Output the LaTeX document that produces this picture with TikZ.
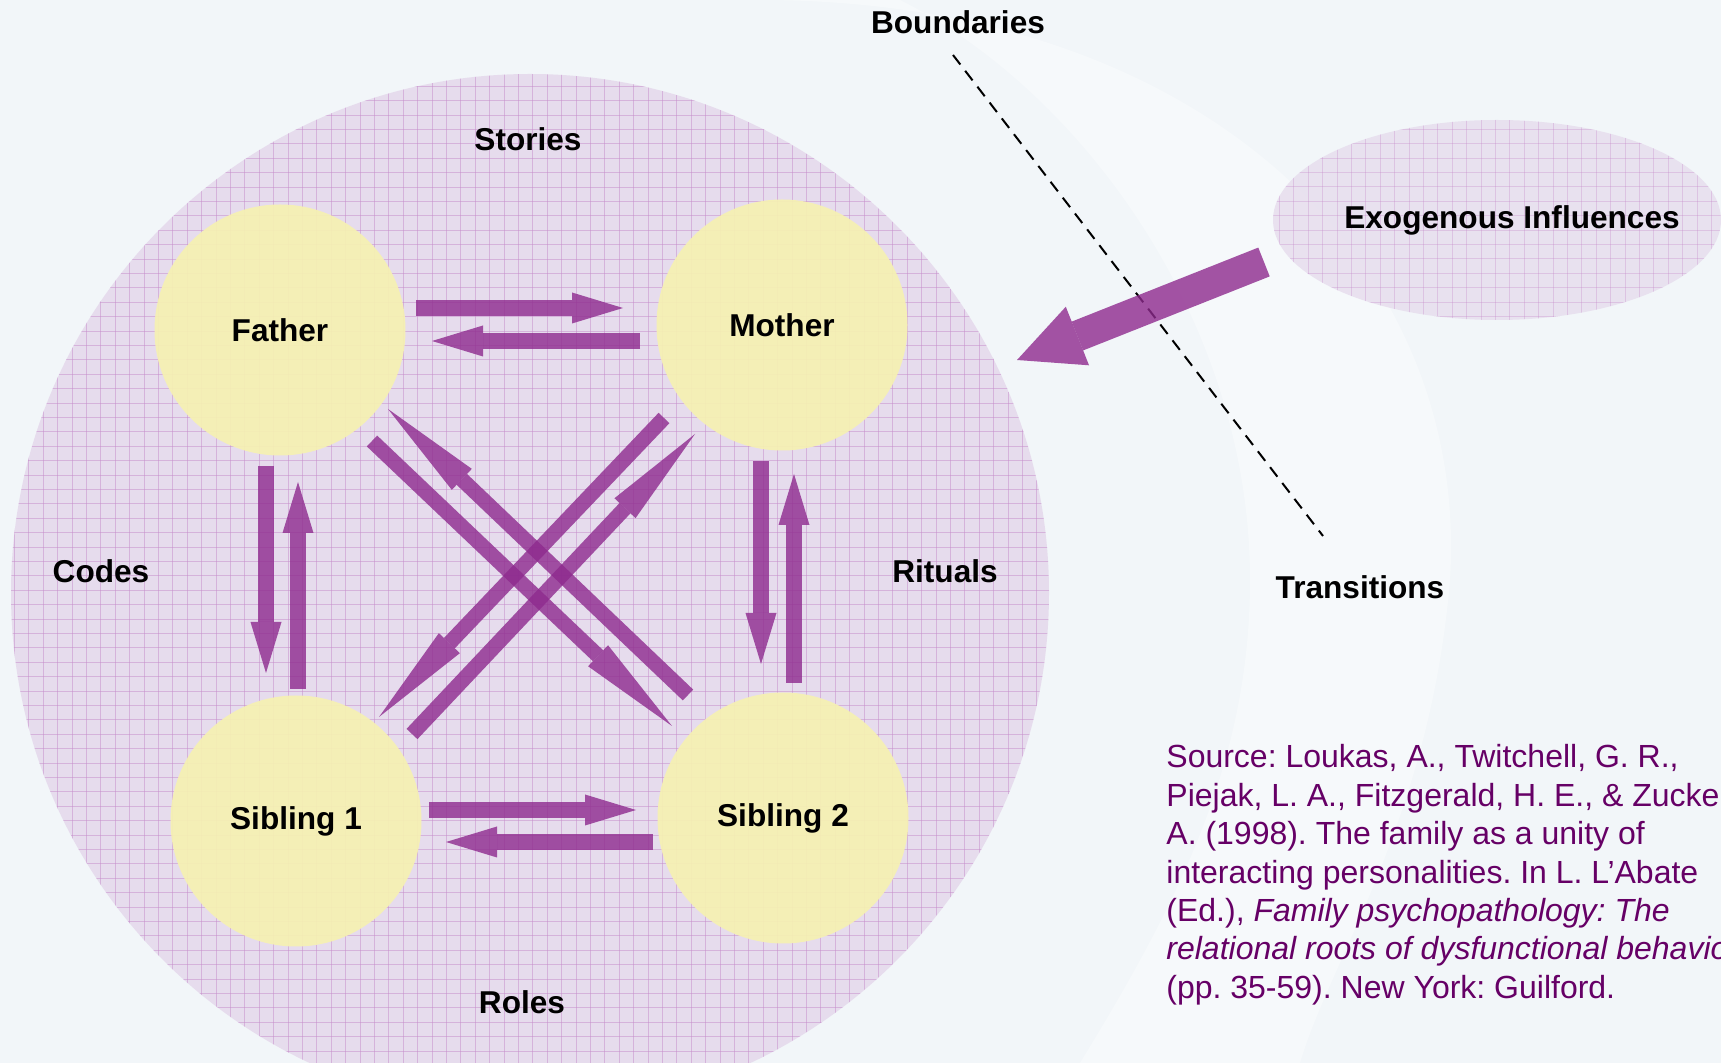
\documentclass[tikz,border=0pt]{standalone}
\usepackage{fontspec}
\setmainfont{Liberation Sans}
\frenchspacing
\usetikzlibrary{arrows.meta, shapes.geometric}

\definecolor{bgblue}{HTML}{F2F6F9}
\definecolor{lavender}{HTML}{E6DCED}
\definecolor{gridpurple}{HTML}{C68CCB}
\definecolor{famyellow}{HTML}{F6F1B2}
\definecolor{arrowpurple}{HTML}{8E2A8E}
\definecolor{srcpurple}{HTML}{660066}

\begin{document}
\begin{tikzpicture}[x=0.5pt, y=-0.5pt,
    member/.style={circle, fill=famyellow, fill opacity=0.92, text opacity=1,
        minimum size=125.5pt, inner sep=0pt, font=\fontsize{15.8}{19}\selectfont\bfseries},
    lbl/.style={font=\fontsize{15.8}{19}\selectfont\bfseries, inner sep=0pt},
    gridline/.style={gridpurple, line width=0.5pt},
    famarrow/.style={draw=arrowpurple, opacity=0.8, line width=7.75pt,
        -{Triangle[width=15.5pt, length=25.5pt, line width=0pt]}},
    diagarrow/.style={famarrow, line width=7.5pt,
        -{Triangle[width=14.5pt, length=51pt, line width=0pt]}},
    srcline/.style={anchor=base west, inner sep=0pt, text=srcpurple,
        font=\fontsize{16}{19.2}\selectfont}]

    % Background
    \useasboundingbox (0,0) rectangle (1721,1063);
    \clip (0,0) rectangle (1721,1063);
    \fill[bgblue] (0,0) rectangle (1721,1063);
    \fill[white, opacity=0.35] (760,0) .. controls (1200,0) and (1470,260) .. (1450,580)
        .. controls (1430,820) and (1330,960) .. (1300,1063) -- (1080,1063)
        .. controls (1180,900) and (1250,760) .. (1250,580)
        .. controls (1250,320) and (1080,90) .. (900,0) -- cycle;

    % Family circle
    \fill[lavender] (530,593) circle (519);
    \begin{scope}
        \clip (530,593) circle (519);
        \foreach \k in {0,...,77} {
            \draw[gridline, opacity=0.5] (\k*14.4,0) -- (\k*14.4,1063);
            \draw[gridline, opacity=0.5] (0,\k*14.4) -- (1100,\k*14.4);
        }
    \end{scope}

    % Exogenous influences
    \node[ellipse, fill=lavender, fill opacity=0.8, minimum width=224pt, minimum height=100pt,
        inner sep=0pt] (exo) at (1497,220) {};
    \begin{scope}
        \clip (1497,220) ellipse (224 and 100);
        \foreach \k in {0,...,32} {
            \draw[gridline, opacity=0.35] (1265+\k*14.4,110) -- (1265+\k*14.4,330);
        }
        \foreach \k in {0,...,15} {
            \draw[gridline, opacity=0.35] (1260,115+\k*14.4) -- (1721,115+\k*14.4);
        }
    \end{scope}
    \node[lbl] (exotext) at (1512,220) {Exogenous Influences};

    % Members
    \node[member] (father) at (280,330) {Father};
    \node[member] (mother) at (782,325) {Mother};
    \node[member] (sib1) at (296,821) {Sibling 1};
    \node[member] (sib2) at (783,818) {Sibling 2};

    % Subsystem labels
    \node[lbl] (stories) at (528,139) {Stories};
    \node[lbl] (codes) at (101,571) {Codes};
    \node[lbl] (rituals) at (945,571) {Rituals};
    \node[lbl] (roles) at (522,1002) {Roles};
    \node[lbl] (bound) at (958,22) {Boundaries};
    \node[lbl] (trans) at (1360,587) {Transitions};

    % Boundary line
    \coordinate (b1) at (953,55);
    \coordinate (b2) at (1323,536);
    \draw[black, line width=1pt, dash pattern=on 6pt off 4pt] (b1) -- (b2);

    % Arrow ends
    \coordinate (fm1) at (416,308);  \coordinate (fm2) at (623,308);
    \coordinate (mf1) at (640,341);  \coordinate (mf2) at (432,341);
    \coordinate (ss1) at (429,810);  \coordinate (ss2) at (636,810);
    \coordinate (tt1) at (653,842);  \coordinate (tt2) at (446,842);
    \coordinate (fs1) at (266,466);  \coordinate (fs2) at (266,673);
    \coordinate (sf1) at (298,689);  \coordinate (sf2) at (298,482);
    \coordinate (ms1) at (761,461);  \coordinate (ms2) at (761,664);
    \coordinate (sm1) at (794,683);  \coordinate (sm2) at (794,474);
    \coordinate (da1) at (372,441);  \coordinate (da2) at (672,726);
    \coordinate (db1) at (688,695);  \coordinate (db2) at (388,409);
    \coordinate (dc1) at (664,418);  \coordinate (dc2) at (379,717);
    \coordinate (dd1) at (412,734);  \coordinate (dd2) at (695,434);
    \coordinate (ex1) at (1264,262); \coordinate (ex2) at (1017,360);

    % Interaction arrows
    \draw[famarrow] (fm1) -- (fm2);
    \draw[famarrow] (mf1) -- (mf2);
    \draw[famarrow] (ss1) -- (ss2);
    \draw[famarrow] (tt1) -- (tt2);
    \draw[famarrow] (fs1) -- (fs2);
    \draw[famarrow] (sf1) -- (sf2);
    \draw[famarrow] (ms1) -- (ms2);
    \draw[famarrow] (sm1) -- (sm2);
    \draw[diagarrow] (da1) -- (da2);
    \draw[diagarrow] (db1) -- (db2);
    \draw[diagarrow] (dc1) -- (dc2);
    \draw[diagarrow] (dd1) -- (dd2);

    % Outside influence
    \draw[famarrow, line width=15.5pt, -{Triangle[width=31.5pt, length=32.5pt, line width=0pt]}] (ex1) -- (ex2);

    % Source
    \foreach \txt [count=\i] in {
        {Source: Loukas, A., Twitchell, G. R.,},
        {Piejak, L. A., Fitzgerald, H. E., \& Zucker,},
        {A. (1998). The family as a unity of},
        {interacting personalities. In L. L’Abate},
        {(Ed.), \textit{Family psychopathology: The}},
        {\textit{relational roots of dysfunctional behavior}},
        {(pp. 35-59). New York: Guilford.}}
        \node[srcline] (src\i) at (1166, {768+38.4*(\i-1)}) {\txt};
\end{tikzpicture}
\end{document}
